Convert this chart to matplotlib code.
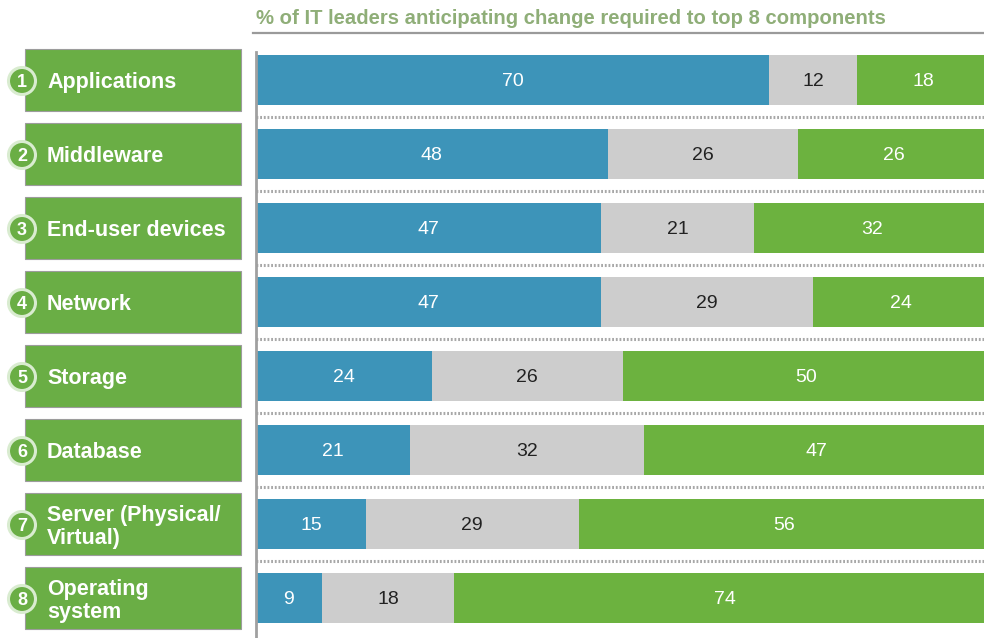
import numpy as np
import matplotlib.pyplot as plt
from matplotlib.patches import Rectangle, Circle

plt.rcParams['font.family'] = ['Liberation Sans', 'DejaVu Sans']

labels = ['Applications', 'Middleware', 'End-user devices', 'Network', 'Storage',
          'Database', 'Server (Physical/\nVirtual)', 'Operating\nsystem']
blue = [70, 48, 47, 47, 24, 21, 15, 9]
grey = [12, 26, 21, 29, 26, 32, 29, 18]
green = [18, 26, 32, 24, 50, 47, 56, 74]
title = '% of IT leaders anticipating change required to top 8 components'

c_blue = '#3d94b9'
c_grey = '#cdcdcd'
c_green = '#6cb23f'
c_box = '#6aae45'

W, H = 984, 638
fig = plt.figure(figsize=(W / 100, H / 100), dpi=100)

# rows centred at 80 + 74*i pixels from the top
top_px, bot_px = 45, 638
y_top = (top_px - 80) / 74.
y_bot = (bot_px - 80) / 74.

ax = fig.add_axes([256 / W, 0, (W - 256) / W, (H - top_px) / H])
ax.set_xlim(0, (W - 256) / 7.33)
ax.set_ylim(y_bot, y_top)
ax.axis('off')

y = np.arange(len(labels))
segs = [(blue, c_blue, 'white'), (grey, c_grey, '#222222'), (green, c_green, 'white')]
left = np.zeros(len(labels))
for vals, col, tcol in segs:
    vals = np.array(vals)
    ax.barh(y, vals, left=left, height=0.68, color=col, edgecolor='none')
    for yi, l, v in zip(y, left, vals):
        ax.text(l + v / 2, yi + 0.02, str(v), ha='center', va='center', fontsize=14, color=tcol)
    left = left + vals

# dotted separators
for i in range(len(labels) - 1):
    ax.plot([0, 200], [i + 0.5, i + 0.5], color='#a8a8a8', lw=2.2, ls=(0, (0.6, 0.6)),
            solid_capstyle='butt')
ax.plot([0, 0], [y_bot, y_top + 0.1], color='#a0a0a0', lw=2, clip_on=False)

# left label boxes
lax = fig.add_axes([0, 0, 252 / W, (H - top_px) / H])
lax.set_xlim(0, 252)
lax.set_ylim(y_bot, y_top)
lax.axis('off')
for i, lab in enumerate(labels):
    lax.add_patch(Rectangle((25, i - 0.42), 216, 0.84, facecolor=c_box,
                            edgecolor='#9c9c9c', lw=0.8))
    lax.text(47, i + 0.04, lab, ha='left', va='center', fontsize=15.5, fontweight='bold',
             color='white', linespacing=1.15)

# numbered circles in pixel space
for i in range(len(labels)):
    cy = H - (81 + 74 * i)
    fig.patches.append(Circle((22, cy), 13.5, transform=None, facecolor=c_box,
                              edgecolor='#d9ecd0', lw=2.2, figure=fig, zorder=5))
    fig.text(22 / W, (cy - 1.5) / H, str(i + 1), ha='center', va='center', fontsize=13,
             fontweight='bold', color='white', zorder=6)

fig.text(256 / W, 1 - 19 / H, title, ha='left', va='center', fontsize=14.6,
         fontweight='bold', color='#8fae78')
fig.add_artist(plt.Line2D([253 / W, 1], [1 - 33 / H, 1 - 33 / H], color='#9a9a9a', lw=1.6))

fig.savefig('out.png', dpi=100)
